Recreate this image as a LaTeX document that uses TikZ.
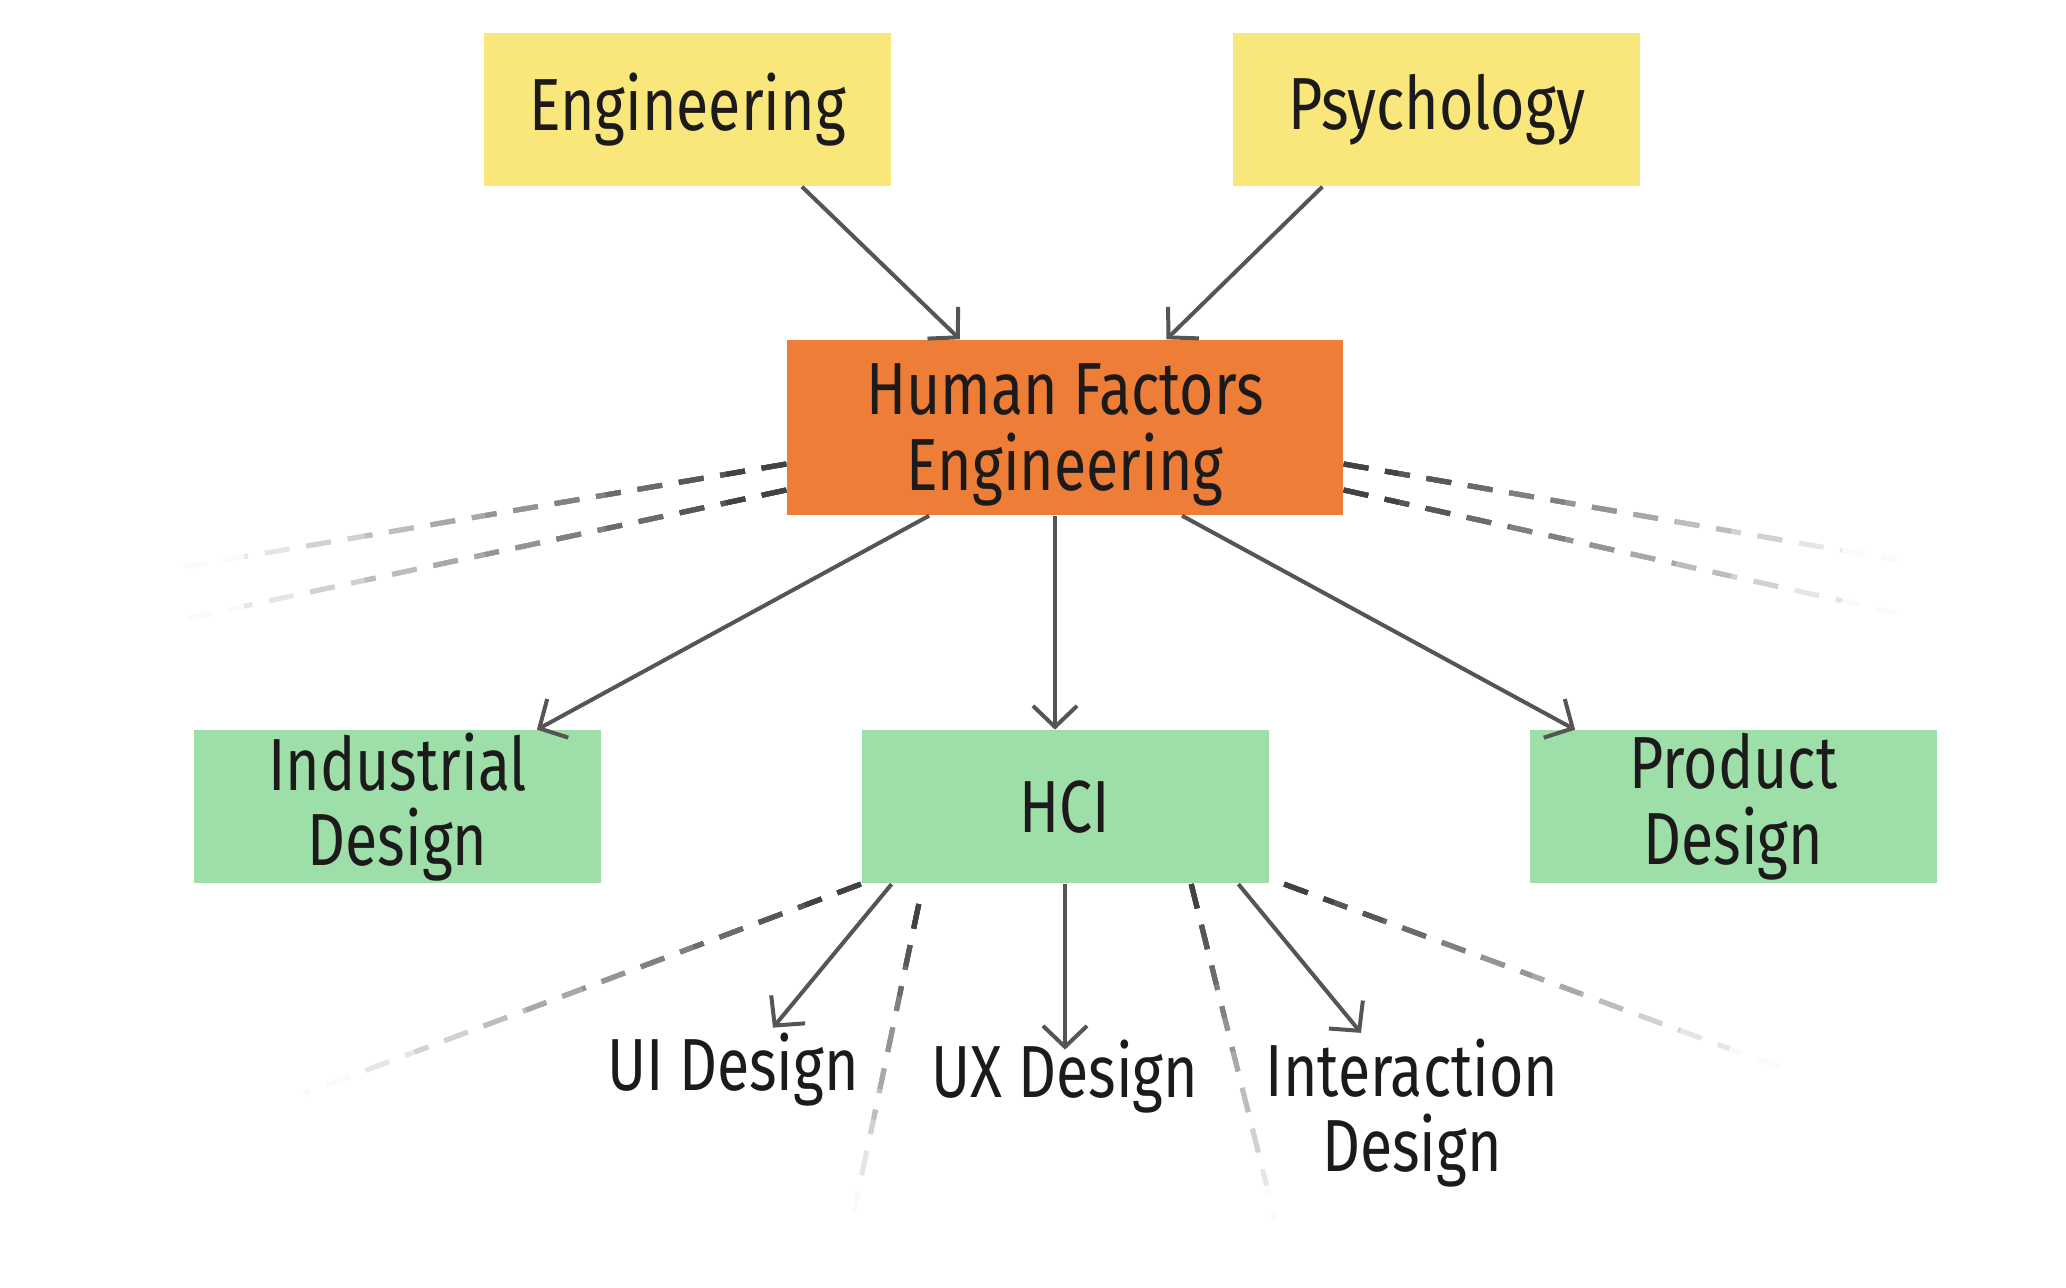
\documentclass[tikz,border=0pt]{standalone}
\usepackage{fontspec}
\setmainfont[FakeStretch=0.80]{Fira Sans}
\usepackage{tikz}
\usetikzlibrary{arrows.meta, positioning, calc}

\definecolor{fieldyellow}{HTML}{F9E77B}
\definecolor{hfeorange}{HTML}{ED7D37}
\definecolor{hcigreen}{HTML}{9EDFA9}
\definecolor{arrowgray}{HTML}{555555}
\definecolor{textdark}{HTML}{1C1A1A}

\begin{document}
\begin{tikzpicture}[
    arrow/.style={-{Straight Barb[length=0.21cm, width=0.44cm]}, line width=0.04cm, draw=arrowgray}, % Arrow style
    boxnode/.style={minimum width=4.07cm, minimum height=1.53cm, align=center, inner sep=0pt,
        font=\fontsize{21}{21.5}\selectfont, text=textdark},
    leafnode/.style={align=center, inner sep=0.05cm, font=\fontsize{21}{21.5}\selectfont, text=textdark},
    fadeline/.style={line width=0.05cm, dash pattern=on 0.25cm off 0.17cm}
]
    \useasboundingbox (0,0) rectangle (20.66,-12.88);

    % Source fields
    \node (eng) [boxnode, fill=fieldyellow] at (6.875,-1.095) {Engineering};
    \node (psy) [boxnode, fill=fieldyellow, right=3.41cm of eng] {Psychology};

    % Human factors
    \node (hfe) [boxnode, fill=hfeorange, minimum width=5.56cm, minimum height=1.75cm, text depth=0.01cm]
        at (10.65,-4.275) {Human Factors\\Engineering};

    % Fields below
    \node (hci) [boxnode, fill=hcigreen, below=2.14cm of hfe] {HCI};
    \node (ind) [boxnode, fill=hcigreen, left=2.59cm of hci] {Industrial\\Design};
    \node (prod) [boxnode, fill=hcigreen, right=2.60cm of hci] {Product\\Design};

    % Leaves under HCI
    \node (ui) [leafnode] at (7.33,-10.70) {UI Design};
    \node (ux) [leafnode] at (10.65,-10.77) {UX Design};
    \node (inter) [leafnode] at (14.12,-11.13) {Interaction\\Design};

    % Arrows
    \draw[arrow] (eng.-34) -- (hfe.140);
    \draw[arrow] (psy.-146) -- (hfe.41);
    \draw[arrow] (hfe.213) -- (ind.29);
    \draw[arrow] ([xshift=-0.1cm]hfe.south) -- ([xshift=-0.1cm]hci.north);
    \draw[arrow] (hfe.-37) -- (prod.154);
    \draw[arrow] (hci.204) -- ([xshift=0.4cm]ui.north);
    \draw[arrow] (hci.south) -- ([yshift=-0.15cm]ux.north);
    \draw[arrow] (hci.-24) -- ([xshift=-0.51cm]inter.north);

    % Fading dashed lines
    \coordinate (hl1) at ([yshift=-0.365cm]hfe.west);
    \coordinate (hl2) at ([yshift=-0.625cm]hfe.west);
    \coordinate (hr1) at ([yshift=-0.365cm]hfe.east);
    \coordinate (hr2) at ([yshift=-0.625cm]hfe.east);
    \coordinate (cl1) at (hci.south west);
    \coordinate (cl2) at ([xshift=0.58cm, yshift=-0.2cm]hci.south west);
    \coordinate (cr2) at ([xshift=-0.78cm]hci.south east);
    \coordinate (cr1) at ([xshift=0.15cm]hci.south east);
    \coordinate (hl1e) at (1.84,-5.67);
    \coordinate (hl2e) at (1.84,-6.19);
    \coordinate (hr1e) at (18.97,-5.60);
    \coordinate (hr2e) at (18.97,-6.13);
    \coordinate (cl1e) at (3.03,-10.94);
    \coordinate (cl2e) at (8.54,-12.12);
    \coordinate (cr2e) at (12.75,-12.19);
    \coordinate (cr1e) at (17.79,-10.67);

    \foreach \s in {hl1, hl2, hr1, hr2, cl1, cl2, cr1, cr2} {
        \foreach \i in {10,...,1} {
            \pgfmathtruncatemacro\shade{82-8*\i}
            \draw[fadeline, black!\shade] (\s) -- ($(\s)!\i/10!(\s e)$);
        }
    }

\end{tikzpicture}
\end{document}
